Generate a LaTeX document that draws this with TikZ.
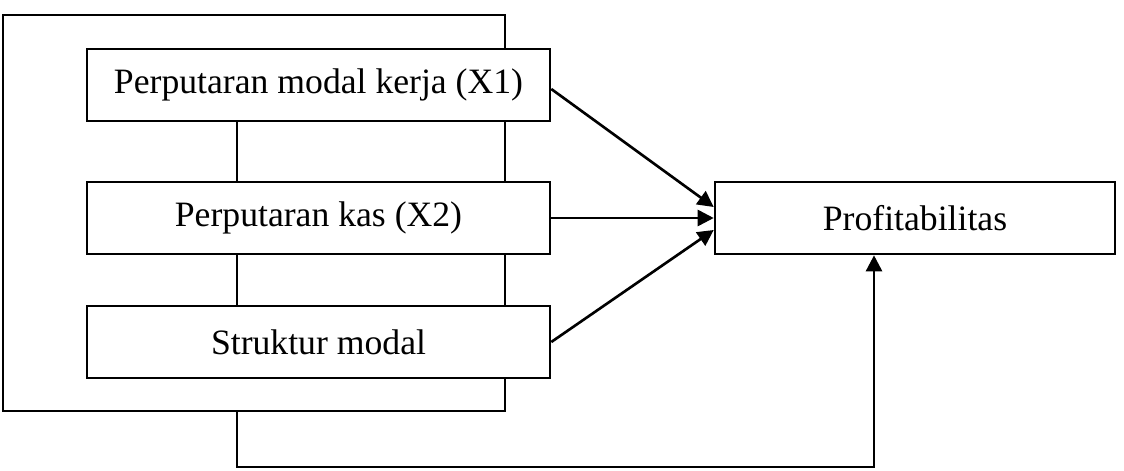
\documentclass[tikz,border=0pt]{standalone}
\usepackage{fontspec}
\setmainfont{Liberation Serif}
\usetikzlibrary{arrows.meta,positioning}
\tikzset{
  box/.style={draw, fill=white, line width=1.5pt, minimum width=9.26cm,
              minimum height=1.44cm, inner sep=0pt, font=\fontsize{20.3}{24}\selectfont},
  flow/.style={-{Triangle[length=0.32cm, width=0.32cm]}, line width=1.5pt},
  link/.style={line width=1.5pt},
}
\begin{document}
\begin{tikzpicture}[x=0.02cm, y=-0.02cm]
  \useasboundingbox (0,0) rectangle (1124,470);
  % outer frame round the three variables
  \node[draw, line width=1.5pt, minimum width=10.04cm, minimum height=7.92cm,
        inner sep=0pt] (group) at (254,213) {};
  \coordinate (base) at (237,467);
  \foreach \n/\y/\s in {b1/85/{Perputaran modal kerja (X1)},
                        b2/218/{Perputaran kas (X2)},
                        b3/342/{Struktur modal}}
    { \node[box] (\n) at (318.5,\y) {\s}; }
  \node[box, minimum width=8cm] (profit) at (915,218) {Profitabilitas};
  \draw[link] (b1.south -| base) -- (b2.north -| base);
  \draw[link] (b2.south -| base) -- (b3.north -| base);
  \draw[flow] ([yshift=-0.08cm]b1.east) -- ([yshift=0.22cm]profit.west);
  \draw[flow] (b2.east) -- (profit.west);
  \draw[flow] (b3.east) -- ([yshift=-0.24cm]profit.west);
  \draw[flow] (group.south -| base) -- (base) -| ([xshift=-0.82cm]profit.south);
\end{tikzpicture}
\end{document}
